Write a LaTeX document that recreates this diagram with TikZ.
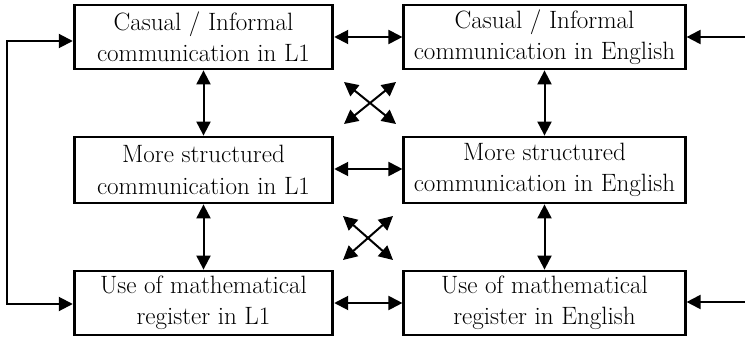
\documentclass[tikz,border=0pt]{standalone}
\usetikzlibrary{arrows.meta,calc}

\begin{document}
\begin{tikzpicture}
    [x=0.75pt, y=0.75pt,
    every node/.style={draw, line width=2.1pt, align=center,
        minimum height=48pt, inner sep=0pt,
        font=\fontsize{18.8}{23.5}\selectfont},
    lbox/.style={minimum width=194pt},
    rbox/.style={minimum width=211pt},
    link/.style={line width=1.5pt, {Triangle[length=10.5pt,width=10.5pt]}-{Triangle[length=10.5pt,width=10.5pt]}},
    feed/.style={line width=1.5pt, -{Triangle[length=10.5pt,width=10.5pt]}}
    ]
    \useasboundingbox (0,0) rectangle (745,336);
    % left column, L1
    \node (casL1) [lbox] at (203.5,299) {Casual / Informal\\communication in L1};
    \node (strL1) [lbox, minimum height=49.5pt] at (203.5,166) {More structured\\communication in L1};
    \node (regL1) [lbox] at (203.5,33) {Use of mathematical\\register in L1};
    % right column, English
    \node (casEn) [rbox] at (544.5,299) {Casual / Informal\\communication in English};
    \node (strEn) [rbox, minimum height=49.5pt] at (544.5,166) {More structured\\communication in English};
    \node (regEn) [rbox] at (544.5,33) {Use of mathematical\\register in English};
    % free ends
    \coordinate (inTop) at (745,299);
    \coordinate (inBot) at (745,34);
    \coordinate (upX) at (370,233);
    \coordinate (loX) at (368,98);

    \draw [link] (casL1) -- (strL1);
    \draw [link] (strL1) -- (regL1);
    \draw [link] (casEn) -- (strEn);
    \draw [link] (strEn) -- (regEn);
    \draw [link] (casL1) -- (casEn);
    \draw [link] (strL1.east |- 0,167) -- (strEn.west |- 0,167);
    \draw [link] (regL1) -- (regEn);
    \draw [link] ([yshift=-3pt]casL1.west) -- ++(-66,0) |- ([yshift=-0.75pt]regL1.west);
    \draw [feed] (inTop) -- (casEn);
    \draw [feed] (inBot) -- (regEn.east |- inBot);
    \draw [link] ($(upX)+(-26,21)$) -- ($(upX)+(26,-21)$);
    \draw [link] ($(upX)+(-26,-21)$) -- ($(upX)+(26,21)$);
    \draw [link] ($(loX)+(-25,22)$) -- ($(loX)+(25,-22)$);
    \draw [link] ($(loX)+(-25,-22)$) -- ($(loX)+(25,22)$);
\end{tikzpicture}
\end{document}
